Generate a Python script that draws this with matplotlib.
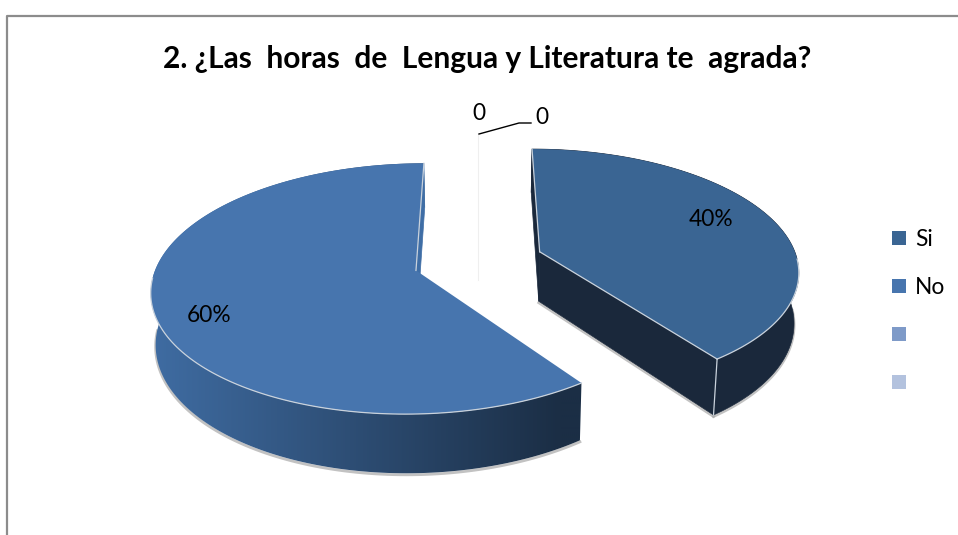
#!/usr/bin/env python
import numpy as np
import matplotlib
matplotlib.use('Agg')
import matplotlib.pyplot as plt
from matplotlib.colors import to_rgb
from matplotlib.patches import Polygon

title = '2. ¿Las  horas  de  Lengua y Literatura te  agrada?'
categories = ['Si', 'No', '', '']
values = [40, 60, 0, 0]
legend_colors = ['#3A6593', '#4775AE', '#7E9AC8', '#B3C2DE']

# camera of the fake 3d pie, all in pixels of the picture
CX, CY = 478.5, 261
RX, RY = 258, 120
PERSP = 0.144
EXPLODE = 0.252
DEPTH = 50
BOTTOM_SHRINK = 0.985
EDGE = '#c9d2dc'

def project(u, v, bottom=False):
  s = 1 / (1 + PERSP * v)
  x = (RX * u) * s
  y = CY - RY * v * s
  if bottom:
    x = x * BOTTOM_SHRINK
    y = y + DEPTH * s
  return CX + x, y

def slice_outline(start, end, bottom=False):
  # angles in degrees, clockwise from the top
  mid = np.radians((start + end) / 2)
  ou, ov = EXPLODE * np.sin(mid), EXPLODE * np.cos(mid)
  t = np.radians(np.linspace(start, end, 181))
  rim = np.column_stack(project(ou + np.sin(t), ov + np.cos(t), bottom))
  apex = np.array(project(ou, ov, bottom))
  return apex, rim, np.cos(t) < -0.05

def draw_wall(ax, rim, brim, cols):
  # horizontal gradient clipped to the wall
  poly = Polygon(np.vstack([rim, brim[::-1]]), closed=True, fc='none', ec='none', transform=ax.transData)
  ax.add_patch(poly)
  if cols[0] == cols[1]:
    ax.fill(poly.get_xy()[:, 0], poly.get_xy()[:, 1], color=cols[0], lw=0.5, zorder=3)
    return
  xs = np.linspace(100, 660, 280)
  f = np.clip((xs - 152) / (560 - 152), 0, 1)[None, :, None]
  img = np.array(to_rgb(cols[0]))[None, None, :] * (1 - f) + np.array(to_rgb(cols[1]))[None, None, :] * f
  im = ax.imshow(img, extent=[100, 660, 535, 0], aspect='auto', zorder=3, interpolation='bilinear')
  im.set_clip_path(poly)

def draw_slice(ax, start, end, top_col, wall_cols, cut_col, edge_start):
  apex, rim, front = slice_outline(start, end)
  bapex, brim, _ = slice_outline(start, end, bottom=True)

  # soft shadow under the wall
  ax.plot(brim[front, 0], brim[front, 1] + 1.5, color='#a8a8a8', lw=2, alpha=0.7, zorder=1)
  if edge_start:
    ax.plot([bapex[0], brim[-1, 0]], [bapex[1] + 1.5, brim[-1, 1] + 1.5],
            color='#a8a8a8', lw=2, alpha=0.7, zorder=1)

  draw_wall(ax, rim, brim, wall_cols)

  # the first cut of the big slice would lie over its own wall
  cuts = [(rim[-1], brim[-1])]
  if edge_start:
    cuts.append((rim[0], brim[0]))
  for r, br in cuts:
    q = np.array([apex, r, br, bapex])
    ax.fill(q[:, 0], q[:, 1], color=cut_col, lw=0.5, zorder=3.5)

  top = np.vstack([apex, rim])
  ax.fill(top[:, 0], top[:, 1], color=top_col, lw=0, zorder=4)
  ax.plot(rim[front, 0], rim[front, 1], color=EDGE, lw=0.9, zorder=5)
  ax.plot([apex[0], rim[-1, 0]], [apex[1], rim[-1, 1]], color=EDGE, lw=0.9, zorder=5)
  if edge_start:
    ax.plot([apex[0], rim[0, 0]], [apex[1], rim[0, 1]], color=EDGE, lw=0.9, zorder=5)
  return rim, brim

def main():
  plt.rcParams['font.family'] = ['Lato', 'DejaVu Sans']
  fig = plt.figure(figsize=(9.58, 5.35), dpi=100)
  ax = fig.add_axes([0, 0, 1, 1])

  # chart frame, open at the bottom and right
  ax.plot([7.5, 7.5, 958], [535, 15.5, 15.5], color='#8c8c8c', lw=1.6, zorder=1)

  ax.text(487.5, 59, title, fontsize=21.5, fontweight='bold', ha='center', va='center', color='black')

  total = sum(values)
  angles = np.cumsum([0] + [v / total * 360 for v in values])

  # zero slices only leave a hairline at the top
  x0, y0 = project(0, EXPLODE + 1)
  x1, y1 = project(0, EXPLODE, bottom=True)
  ax.plot([x0, x0], [y0, y1], color='#efefef', lw=0.8, zorder=1)

  rim, brim = draw_slice(ax, angles[0], angles[1], legend_colors[0],
                         ('#1A283B', '#1A283B'), '#1A283B', True)
  ax.plot([rim[-1, 0], brim[-1, 0]], [rim[-1, 1], brim[-1, 1]], color=EDGE, lw=0.9, zorder=5)
  draw_slice(ax, angles[1], angles[2], legend_colors[1],
             ('#3F6CA2', '#1B2E45'), '#3F6EA6', False)

  # labels
  ax.text(711, 219, '%d%%' % values[0], fontsize=16.4, ha='center', va='center', color='black', zorder=6)
  ax.text(209, 316, '%d%%' % values[1], fontsize=16.4, ha='center', va='center', color='black', zorder=6)
  ax.text(479, 113, '%d' % values[2], fontsize=16.4, ha='center', va='center', color='black')
  ax.text(542, 118, '%d' % values[3], fontsize=16.4, ha='center', va='center', color='black')
  ax.plot([479, 519, 531], [134, 123, 123], color='black', lw=1, zorder=2)

  # legend
  for i, (name, col) in enumerate(zip(categories, legend_colors)):
    y = 238 + 48 * i
    ax.scatter([899.5], [y], marker='s', s=90, color=col, lw=0, zorder=3)
    if name:
      ax.text(915, y + 1, name, fontsize=16.4, ha='left', va='center', color='black')

  ax.set_xlim(0, 958)
  ax.set_ylim(535, 0)
  ax.axis('off')

  fig.savefig('out.png', dpi=100, facecolor='white')

if __name__ == '__main__':
  main()
